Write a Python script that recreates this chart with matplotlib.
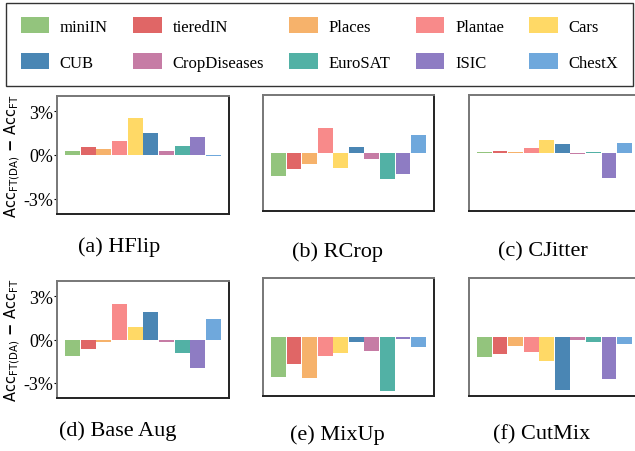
import matplotlib
matplotlib.use('Agg')
import matplotlib.pyplot as plt
from matplotlib.patches import Patch

datasets = ['miniIN', 'tieredIN', 'Places', 'Plantae', 'Cars',
            'CUB', 'CropDiseases', 'EuroSAT', 'ISIC', 'ChestX']
colors = ['#93c47d', '#e06666', '#f6b26b', '#f88a8a', '#ffd966',
          '#4a86b4', '#c67ca5', '#52b1a5', '#8e7cc3', '#6fa8dc']

# accuracy difference (%) per augmentation
hflip    = [0.30, 0.57, 0.41, 0.97, 2.55, 1.54, 0.30, 0.62, 1.24, -0.05]
rcrop    = [-1.59, -1.10, -0.76, 1.72, -1.03, 0.40, -0.41, -1.79, -1.45, 1.24]
cjitter  = [0.04, 0.15, 0.04, 0.34, 0.90, 0.62, -0.05, 0.05, -1.72, 0.69]
base_aug = [-1.16, -0.63, -0.19, 2.47, 0.84, 1.88, -0.19, -0.90, -1.95, 1.40]
mixup    = [-2.76, -1.86, -2.83, -1.31, -1.10, -0.34, -0.97, -3.72, -0.14, -0.69]
cutmix   = [-1.38, -1.17, -0.62, -1.03, -1.66, -3.66, -0.21, -0.34, -2.90, -0.48]

titles = ['(a) HFlip', '(b) RCrop', '(c) CJitter', '(d) Base Aug', '(e) MixUp', '(f) CutMix']
values = [hflip, rcrop, cjitter, base_aug, mixup, cutmix]

W, H = 635, 452
fig = plt.figure(figsize=(W/100, H/100), dpi=100)
serif = 'Liberation Serif'

# axes boxes in pixels: x0, y0(top), x1, y1(bottom)
boxes = [(57, 97, 229, 215), (263, 96, 434, 212), (469, 96, 640, 212),
         (57, 282, 229, 399), (263, 279, 434, 397), (469, 279, 640, 397)]
title_pos = [(119, 247), (338, 252), (543, 252), (118, 431), (337, 435), (542, 435)]

for i in range(6):
    x0, y0, x1, y1 = boxes[i]
    ax = fig.add_axes([x0/W, 1 - y1/H, (x1-x0)/W, (y1-y0)/H])
    ax.bar(range(10), values[i], width=0.95, color=colors)
    ax.set_xlim(-1, 10)
    ax.set_ylim(-4.05, 4.05)
    ax.set_xticks([])
    if i % 3 == 0:
        ax.set_yticks([-3, 0, 3])
        ax.set_yticklabels(['-3%', '0%', '3%'], fontfamily=serif, fontsize=13)
        ax.tick_params(axis='y', length=2, pad=1)
        ax.set_ylabel(r'$\mathrm{Acc}_{\mathrm{FT(DA)}}$ $\mathbf{-}$ $\mathrm{Acc}_{\mathrm{FT}}$',
                      fontsize=10.5, labelpad=1)
    else:
        ax.set_yticks([])
    ax.spines['left'].set_color('#777777')
    ax.spines['top'].set_color('#777777')
    ax.spines['bottom'].set_color('#222222')
    ax.spines['right'].set_color('#222222')
    for s in ax.spines.values():
        s.set_linewidth(1.4)
    tx, ty = title_pos[i]
    fig.text(tx/W, 1 - ty/H, titles[i], ha='center', va='center',
             fontfamily=serif, fontsize=16)

# legend fills row by row in the reference
order = [0, 5, 1, 6, 2, 7, 3, 8, 4, 9]
handles = [Patch(facecolor=colors[k], label=datasets[k]) for k in order]
leg = fig.legend(handles=handles, ncol=5, loc='upper left',
                 bbox_to_anchor=(6/W, 1 - 4/H, 627/W, 0.001), mode='expand',
                 borderaxespad=0,
                 prop={'family': serif, 'size': 12}, frameon=True, fancybox=False,
                 handlelength=1.7, handleheight=1.1, handletextpad=0.65,
                 labelspacing=1.1, borderpad=0.88, columnspacing=1.2)
leg.get_frame().set_edgecolor('black')
leg.get_frame().set_linewidth(1.0)

fig.savefig('out.png', dpi=100)
